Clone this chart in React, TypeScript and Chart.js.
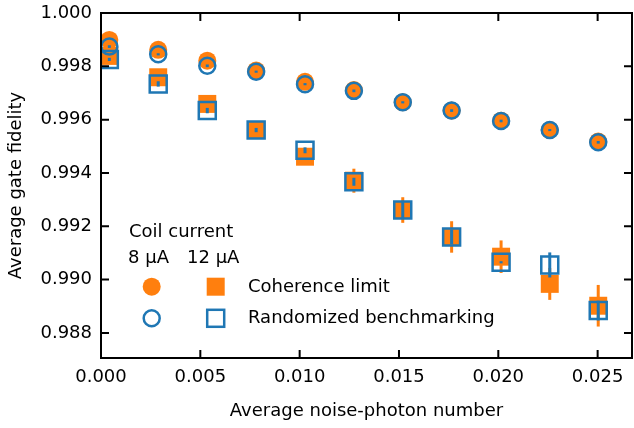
import React, { useEffect, useRef } from "react";
import { Chart, registerables } from "chart.js";

Chart.register(...registerables);

// ---- data ----
const photonNumber = [0.00042, 0.00288, 0.00535, 0.00781, 0.01027, 0.01273, 0.01519, 0.01765, 0.02014, 0.02259, 0.02503];

// 8 uA
const coherence8 = [0.99899, 0.99862, 0.99821, 0.99784, 0.99742, 0.99711, 0.99665, 0.99634, 0.99596, 0.99561, 0.99518];
const coherence8Err = [0.0001, 0.0001, 0.0001, 0.0001, 0.0001, 0.0001, 0.0001, 0.0001, 0.0001, 0.0001, 0.0001];
const rb8 = [0.99874, 0.99845, 0.99802, 0.9978, 0.99733, 0.99708, 0.99665, 0.99634, 0.99595, 0.99561, 0.99515];
const rb8Err = [0.00005, 0.00004, 0.00005, 0.00004, 0.00004, 0.00005, 0.00004, 0.00005, 0.00005, 0.00004, 0.00005];

// 12 uA
const coherence12 = [0.99839, 0.99759, 0.99659, 0.99561, 0.99461, 0.99371, 0.99261, 0.9916, 0.99086, 0.98984, 0.98902];
const coherence12Err = [0.0002, 0.0002, 0.0002, 0.0002, 0.0003, 0.00045, 0.00048, 0.00059, 0.00061, 0.0006, 0.00078];
const rb12 = [0.99826, 0.99734, 0.99634, 0.99561, 0.99485, 0.99367, 0.99261, 0.9916, 0.99065, 0.99055, 0.98884];
const rb12Err = [0.00006, 0.0001, 0.0001, 0.00008, 0.00011, 0.00015, 0.00034, 0.00028, 0.00004, 0.00047, 0.00037];

const xTickValues = [0, 0.005, 0.01, 0.015, 0.02, 0.025];
const yTickValues = [0.988, 0.99, 0.992, 0.994, 0.996, 0.998, 1.0];

const xTitle = "Average noise-photon number";
const yTitle = "Average gate fidelity";
const legendHeader = "Coil current";
const legendCurrents = ["8 µA", "12 µA"];
const legendRows = ["Coherence limit", "Randomized benchmarking"];

const ORANGE = "#ff7f0e";
const BLUE = "#1f77b4";
const FONT = "DejaVu Sans";

const toPts = (ys: number[]) => ys.map((v, i) => ({ x: photonNumber[i], y: v }));

function drawBars(chart: any, ys: number[], errs: number[], color: string) {
  const { ctx, scales } = chart;
  const x = scales.x;
  const y = scales.y;
  ctx.save();
  ctx.strokeStyle = color;
  ctx.lineWidth = 3;
  ctx.lineCap = "butt";
  ys.forEach((v, i) => {
    const px = x.getPixelForValue(photonNumber[i]);
    const y1 = y.getPixelForValue(v - errs[i]);
    const y2 = y.getPixelForValue(v + errs[i]);
    ctx.beginPath();
    ctx.moveTo(px, y1);
    ctx.lineTo(px, y2);
    ctx.stroke();
  });
  ctx.restore();
}

const errorBarPlugin = {
  id: "errorBars",
  beforeDatasetsDraw(chart: any) {
    drawBars(chart, coherence12, coherence12Err, ORANGE);
    drawBars(chart, coherence8, coherence8Err, ORANGE);
  },
  afterDatasetsDraw(chart: any) {
    drawBars(chart, rb12, rb12Err, BLUE);
    drawBars(chart, rb8, rb8Err, BLUE);
  },
};

const framePlugin = {
  id: "frame",
  afterDraw(chart: any) {
    const { ctx, chartArea, scales } = chart;
    const { left, right, top, bottom } = chartArea;
    const tl = 8;
    ctx.save();
    ctx.strokeStyle = "#000";
    ctx.lineWidth = 2;
    ctx.strokeRect(left, top, right - left, bottom - top);
    ctx.lineWidth = 2;
    ctx.beginPath();
    scales.x.ticks.forEach((t: any) => {
      const px = scales.x.getPixelForValue(t.value);
      ctx.moveTo(px, bottom);
      ctx.lineTo(px, bottom - tl);
      ctx.moveTo(px, top);
      ctx.lineTo(px, top + tl);
    });
    scales.y.ticks.forEach((t: any) => {
      const py = scales.y.getPixelForValue(t.value);
      ctx.moveTo(left, py);
      ctx.lineTo(left + tl, py);
      ctx.moveTo(right, py);
      ctx.lineTo(right - tl, py);
    });
    ctx.stroke();
    ctx.restore();
  },
};

const legendPlugin = {
  id: "customLegend",
  afterDraw(chart: any) {
    const { ctx, chartArea } = chart;
    const ox = chartArea.left;
    const oy = chartArea.top;
    ctx.save();
    ctx.font = `18px "${FONT}"`;
    ctx.fillStyle = "#000";
    ctx.textBaseline = "middle";
    ctx.textAlign = "left";
    ctx.fillText(legendHeader, ox + 28, oy + 219);
    ctx.fillText(legendCurrents[0], ox + 27, oy + 245);
    ctx.fillText(legendCurrents[1], ox + 86, oy + 245);
    ctx.fillText(legendRows[0], ox + 147, oy + 274);
    ctx.fillText(legendRows[1], ox + 147, oy + 305.5);

    const cx1 = ox + 50.7;
    const cx2 = ox + 114.7;
    const r1 = oy + 273.7;
    const r2 = oy + 305.3;
    ctx.fillStyle = ORANGE;
    ctx.beginPath();
    ctx.arc(cx1, r1, 9, 0, Math.PI * 2);
    ctx.fill();
    ctx.fillRect(cx2 - 9, r1 - 9, 18, 18);
    ctx.strokeStyle = BLUE;
    ctx.lineWidth = 2.5;
    ctx.beginPath();
    ctx.arc(cx1, r2, 8, 0, Math.PI * 2);
    ctx.stroke();
    ctx.strokeRect(cx2 - 8.5, r2 - 8.5, 17, 17);
    ctx.restore();
  },
};

export default function App() {
  const ref = useRef<HTMLCanvasElement | null>(null);

  useEffect(() => {
    if (!ref.current) return;
    Chart.defaults.font.family = FONT;
    Chart.defaults.color = "#000";
    const chart = new Chart(ref.current, {
      type: "scatter",
      data: {
        datasets: [
          {
            label: "RB 8",
            data: toPts(rb8),
            pointStyle: "circle",
            pointRadius: 8,
            pointBorderWidth: 2.5,
            backgroundColor: "rgba(0,0,0,0)",
            borderColor: BLUE,
            order: 1,
          },
          {
            label: "RB 12",
            data: toPts(rb12),
            pointStyle: "rect",
            pointRadius: 12,
            pointBorderWidth: 2.5,
            backgroundColor: "rgba(0,0,0,0)",
            borderColor: BLUE,
            order: 2,
          },
          {
            label: "Coherence 8",
            data: toPts(coherence8),
            pointStyle: "circle",
            pointRadius: 9,
            pointBorderWidth: 0,
            backgroundColor: ORANGE,
            borderColor: ORANGE,
            order: 3,
          },
          {
            label: "Coherence 12",
            data: toPts(coherence12),
            pointStyle: "rect",
            pointRadius: 12.7,
            pointBorderWidth: 0,
            backgroundColor: ORANGE,
            borderColor: ORANGE,
            order: 4,
          },
        ],
      },
      options: {
        animation: false,
        responsive: false,
        devicePixelRatio: 1,
        layout: { autoPadding: false, padding: { left: 0, right: 2, top: 13, bottom: 0 } },
        plugins: {
          legend: { display: false },
          tooltip: { enabled: false },
        },
        scales: {
          x: {
            type: "linear",
            min: 0,
            max: 0.02673,
            grid: { display: false, drawTicks: false },
            border: { display: false },
            afterBuildTicks: (scale: any) => {
              scale.ticks = xTickValues.map((v) => ({ value: v }));
            },
            afterFit: (scale: any) => {
              scale.height = 70;
              scale.paddingLeft = 0;
              scale.paddingRight = 0;
            },
            ticks: {
              padding: 9,
              font: { size: 18, family: FONT },
              color: "#000",
              maxRotation: 0,
              autoSkip: false,
              callback: (v: any) => Number(v).toFixed(3),
            },
            title: {
              display: true,
              text: xTitle,
              font: { size: 18, family: FONT },
              color: "#000",
              padding: { top: 0, bottom: 6 },
            },
          },
          y: {
            type: "linear",
            min: 0.98706,
            max: 1.0,
            grid: { display: false, drawTicks: false },
            border: { display: false },
            afterBuildTicks: (scale: any) => {
              scale.ticks = yTickValues.map((v) => ({ value: v }));
            },
            afterFit: (scale: any) => {
              scale.width = 101;
              scale.paddingTop = 0;
              scale.paddingBottom = 0;
            },
            ticks: {
              padding: 9,
              font: { size: 18, family: FONT },
              color: "#000",
              autoSkip: false,
              callback: (v: any) => Number(v).toFixed(3),
            },
            title: {
              display: true,
              text: yTitle,
              font: { size: 18, family: FONT },
              color: "#000",
              padding: { top: 6, bottom: 0 },
            },
          },
        },
      },
      plugins: [errorBarPlugin, framePlugin, legendPlugin],
    } as any);
    return () => chart.destroy();
  }, []);

  return (
    <div style={{ position: "absolute", left: 0, top: 0, width: 634, height: 428, background: "#fff" }}>
      <canvas ref={ref} width={634} height={428} style={{ display: "block", width: 634, height: 428 }} />
    </div>
  );
}
